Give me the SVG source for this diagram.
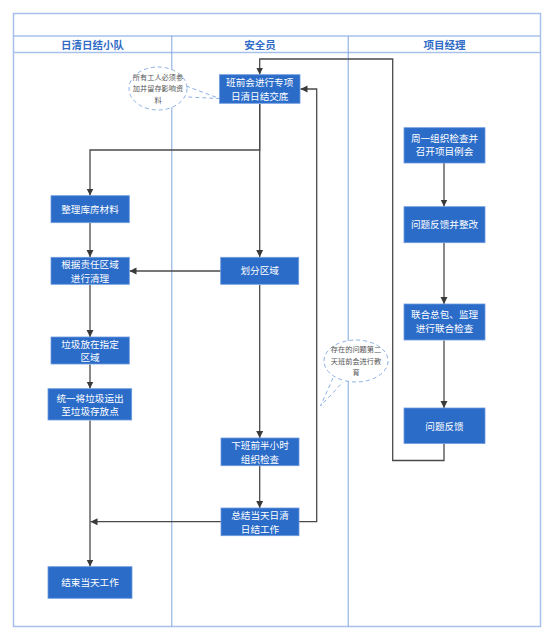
<svg xmlns="http://www.w3.org/2000/svg" width="554" height="641" viewBox="0 0 554 641">
<style>
.frame{fill:none;stroke:#a6c2ec;stroke-width:1.5}
.lane{fill:none;stroke:#7fa6e0;stroke-width:1}
.hdr{font-family:"Noto Sans CJK SC","Noto Sans",sans-serif;font-size:10.5px;font-weight:bold;fill:#2f6cc6;text-anchor:middle}
.node rect{fill:#2b6cc9;stroke:#6f9ade;stroke-width:0.8}
.node text{font-family:"Noto Sans CJK SC","Noto Sans",sans-serif;font-size:9.6px;fill:#ffffff;text-anchor:middle}
.conn path{fill:none;stroke:#4a4a4a;stroke-width:1.3}
.note ellipse,.note path{fill:#ffffff;stroke:#7fa6e0;stroke-width:0.9;stroke-dasharray:4 3}
.note text{font-family:"Noto Sans CJK SC","Noto Sans",sans-serif;font-size:7.2px;fill:#555555;text-anchor:middle}
</style>
<defs>
<marker id="arr" markerWidth="8" markerHeight="8" refX="7" refY="4" orient="auto" markerUnits="userSpaceOnUse">
<path d="M0,0.5 L7,4 L0,7.5 Z" fill="#3a3a3a"/>
</marker>
</defs>
<rect width="554" height="641" fill="#ffffff"/>
<g id="pool">
<rect class="frame" x="13.5" y="13.5" width="527" height="613"/>
<line class="frame" x1="13.5" y1="36" x2="540.5" y2="36"/>
<line class="frame" x1="13.5" y1="52.5" x2="540.5" y2="52.5"/>
<line class="lane" x1="171.8" y1="36" x2="171.8" y2="626.5"/>
<line class="lane" x1="348.2" y1="36" x2="348.2" y2="626.5"/>
<text class="hdr" x="92.5" y="48.5">日清日结小队</text>
<text class="hdr" x="260" y="48.5">安全员</text>
<text class="hdr" x="444.5" y="48.5">项目经理</text>
</g>
<g id="connectors" class="conn">
<path d="M444,444 V460.5 H392.7 V59 H259.7 V74.5" marker-end="url(#arr)"/>
<path d="M259.7,104 V150 H90 V195.5" marker-end="url(#arr)"/>
<path d="M259.7,104 V257" marker-end="url(#arr)"/>
<path d="M90,223 V257" marker-end="url(#arr)"/>
<path d="M221,271 H129.5" marker-end="url(#arr)"/>
<path d="M90,284.5 V337" marker-end="url(#arr)"/>
<path d="M90,364.5 V388.5" marker-end="url(#arr)"/>
<path d="M90,420.5 V566.5" marker-end="url(#arr)"/>
<path d="M259.7,285 V438" marker-end="url(#arr)"/>
<path d="M259.7,466 V508" marker-end="url(#arr)"/>
<path d="M221,521.7 H90.5" marker-end="url(#arr)"/>
<path d="M299,521.7 H316.7 V89 H300.5" marker-end="url(#arr)"/>
<path d="M444,163 V206.5" marker-end="url(#arr)"/>
<path d="M444,243 V304" marker-end="url(#arr)"/>
<path d="M444,340.5 V408" marker-end="url(#arr)"/>
</g>
<g id="note1" class="note">
<path d="M186,86 L219.5,98.5 L187,97"/>
<ellipse cx="158" cy="88.5" rx="29" ry="21.5"/>
<text x="158" y="79.5">所有工人必须参</text>
<text x="158" y="91">加并留存影响资</text>
<text x="158" y="102.5">料</text>
</g>
<g id="note2" class="note">
<path d="M333,378 L320.5,406 L343,382"/>
<ellipse cx="356" cy="361" rx="32" ry="21"/>
<text x="356" y="352">存在的问题第二</text>
<text x="356" y="363.5">天班前会进行教</text>
<text x="356" y="375">育</text>
</g>
<g id="n1" class="node"><rect x="219.5" y="74.7" width="80.5" height="28.6"/><text x="259.7" y="86">班前会进行专项</text><text x="259.7" y="99.5">日清日结交底</text></g>
<g id="n2" class="node"><rect x="404" y="127.7" width="81" height="35.3"/><text x="444.5" y="141.5">周一组织检查并</text><text x="444.5" y="155">召开项目例会</text></g>
<g id="n3" class="node"><rect x="51" y="195.7" width="78.3" height="27"/><text x="90" y="212.7">整理库房材料</text></g>
<g id="n4" class="node"><rect x="51" y="257.3" width="78.3" height="27"/><text x="90" y="268">根据责任区域</text><text x="90" y="281.5">进行清理</text></g>
<g id="n5" class="node"><rect x="220.7" y="257.3" width="78" height="27"/><text x="259.7" y="274.3">划分区域</text></g>
<g id="n6" class="node"><rect x="404" y="206.7" width="81" height="36"/><text x="444.5" y="228.2">问题反馈并整改</text></g>
<g id="n7" class="node"><rect x="404" y="304" width="81" height="36"/><text x="444.5" y="318">联合总包、监理</text><text x="444.5" y="331.5">进行联合检查</text></g>
<g id="n8" class="node"><rect x="51" y="337" width="78.3" height="27"/><text x="90" y="347.8">垃圾放在指定</text><text x="90" y="361.3">区域</text></g>
<g id="n9" class="node"><rect x="48" y="388.7" width="83.7" height="31.3"/><text x="90" y="401.5">统一将垃圾运出</text><text x="90" y="415">至垃圾存放点</text></g>
<g id="n10" class="node"><rect x="404" y="408" width="81" height="35.5"/><text x="444.5" y="429.5">问题反馈</text></g>
<g id="n11" class="node"><rect x="221" y="438" width="78" height="27.7"/><text x="260" y="449">下班前半小时</text><text x="260" y="462.5">组织检查</text></g>
<g id="n12" class="node"><rect x="221" y="508" width="78" height="27.7"/><text x="260" y="519">总结当天日清</text><text x="260" y="532.5">日结工作</text></g>
<g id="n13" class="node"><rect x="48" y="566.7" width="84" height="31.6"/><text x="90" y="586">结束当天工作</text></g>
</svg>
